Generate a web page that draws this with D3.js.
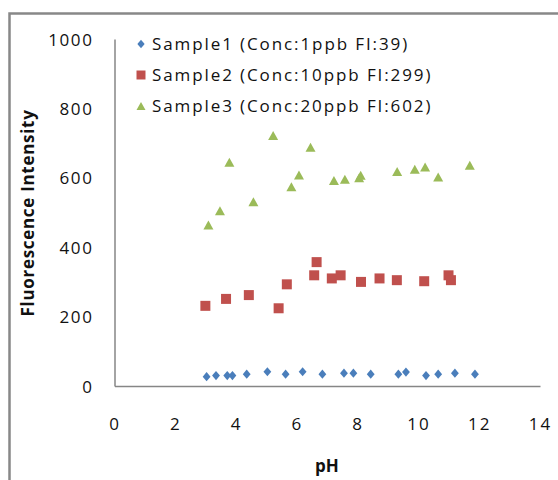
<!DOCTYPE html>
<html><head><meta charset="utf-8">
<script src="https://cdn.jsdelivr.net/npm/d3@7/dist/d3.min.js"></script>
<style>
html,body{margin:0;padding:0;background:#fff;}
svg{display:block;}
text{font-family:"Open Sans",sans-serif;fill:#111;}
</style></head>
<body>
<script>
// ---- data ----
const s1pH  = [3.03,3.34,3.71,3.88,4.35,5.03,5.63,6.19,6.84,7.55,7.86,8.43,9.34,9.59,10.25,10.65,11.2,11.86];
const s1FI  = [27,30,30,30,34,41,34,41,34,37,37,34,34,40,30,34,37,34];
const s2pH  = [2.99,3.67,4.42,5.40,5.67,6.57,6.65,7.15,7.44,8.11,8.72,9.29,10.19,10.99,11.07];
const s2FI  = [231,251,262,224,293,319,357,310,319,300,310,305,302,319,305];
const s3pH  = [3.09,3.47,3.78,4.57,5.22,5.82,6.07,6.45,7.22,7.58,8.05,8.10,9.30,9.88,10.22,10.65,11.69];
const s3FI  = [464,505,645,531,722,574,608,688,592,596,600,607,618,625,631,602,636];
const seriesNames = ["Sample1 (Conc:1ppb FI:39)","Sample2 (Conc:10ppb FI:299)","Sample3 (Conc:20ppb FI:602)"];
const xTicks = [0,2,4,6,8,10,12,14];
const yTicks = [0,200,400,600,800,1000];
const xTitle = "pH";
const yTitle = "Fluorescence Intensity";

const W = 558, H = 480;
const svg = d3.select("body").append("svg").attr("width",W).attr("height",H);

// outer border
svg.append("rect").attr("x",9.5).attr("y",13.5).attr("width",W+10).attr("height",H+10)
  .attr("fill","none").attr("stroke","#888").attr("stroke-width",2.5);

const x = d3.scaleLinear().domain([0,14]).range([114.5,540]);
const y = d3.scaleLinear().domain([0,1000]).range([386,39]);

// axes
const axCol = "#868686";
const gx = svg.append("g").attr("transform",`translate(0,${y(0)})`)
  .call(d3.axisBottom(x).tickValues(xTicks).tickSize(0).tickPadding(0).tickFormat(d3.format("d")));
gx.select(".domain").attr("stroke",axCol).attr("stroke-width",1.5);
gx.selectAll("text").attr("y",44).attr("dy",0).attr("font-size",17).attr("font-family","Open Sans")
  .attr("letter-spacing",2).attr("fill","#111");

const gy = svg.append("g").attr("transform",`translate(${x(0)},0)`)
  .call(d3.axisLeft(y).tickValues(yTicks).tickSize(0).tickPadding(0).tickFormat(d3.format("d")));
gy.select(".domain").attr("stroke",axCol).attr("stroke-width",1.5);
gy.selectAll("text").attr("x",-21).attr("dy","0.36em").attr("font-size",17).attr("font-family","Open Sans")
  .attr("letter-spacing",1.6).attr("fill","#111");

// titles
svg.append("text").attr("x",327).attr("y",472).attr("text-anchor","middle")
  .attr("font-size",17).attr("font-weight","bold").text(xTitle);
svg.append("text").attr("transform","translate(34,213) rotate(-90)").attr("text-anchor","middle")
  .attr("font-size",17).attr("font-weight","bold").attr("letter-spacing",0.7).text(yTitle);

// marker shapes
const diamond = s => `M0,${-s}L${s*0.85},0L0,${s}L${-s*0.85},0Z`;
const square = s => `M${-s},${-s}H${s}V${s}H${-s}Z`;
const triangle = s => `M0,${-s*0.9}L${s},${s*0.9}L${-s},${s*0.9}Z`;

const series = [
  {px:s1pH, fi:s1FI, color:"#4a7ebb", shape:diamond, size:4.6},
  {px:s2pH, fi:s2FI, color:"#c0504d", shape:square, size:5},
  {px:s3pH, fi:s3FI, color:"#9bbb59", shape:triangle, size:5}
];

series.forEach((s,i)=>{
  const pts = s.px.map((v,j)=>[v,s.fi[j]]);
  svg.append("g").selectAll("path").data(pts).join("path")
    .attr("transform",d=>`translate(${x(d[0])},${y(d[1])})`)
    .attr("d",s.shape(s.size)).attr("fill",s.color);
});

// legend
const lg = svg.append("g");
series.forEach((s,i)=>{
  const ly = 44 + i*31;
  lg.append("path").attr("transform",`translate(141,${ly})`).attr("d",s.shape(i===0?4.3:4.5)).attr("fill",s.color);
  lg.append("text").attr("x",152).attr("y",ly).attr("dy","0.36em").attr("font-size",17)
    .attr("letter-spacing",1.9).text(seriesNames[i]);
});
</script>
</body></html>
